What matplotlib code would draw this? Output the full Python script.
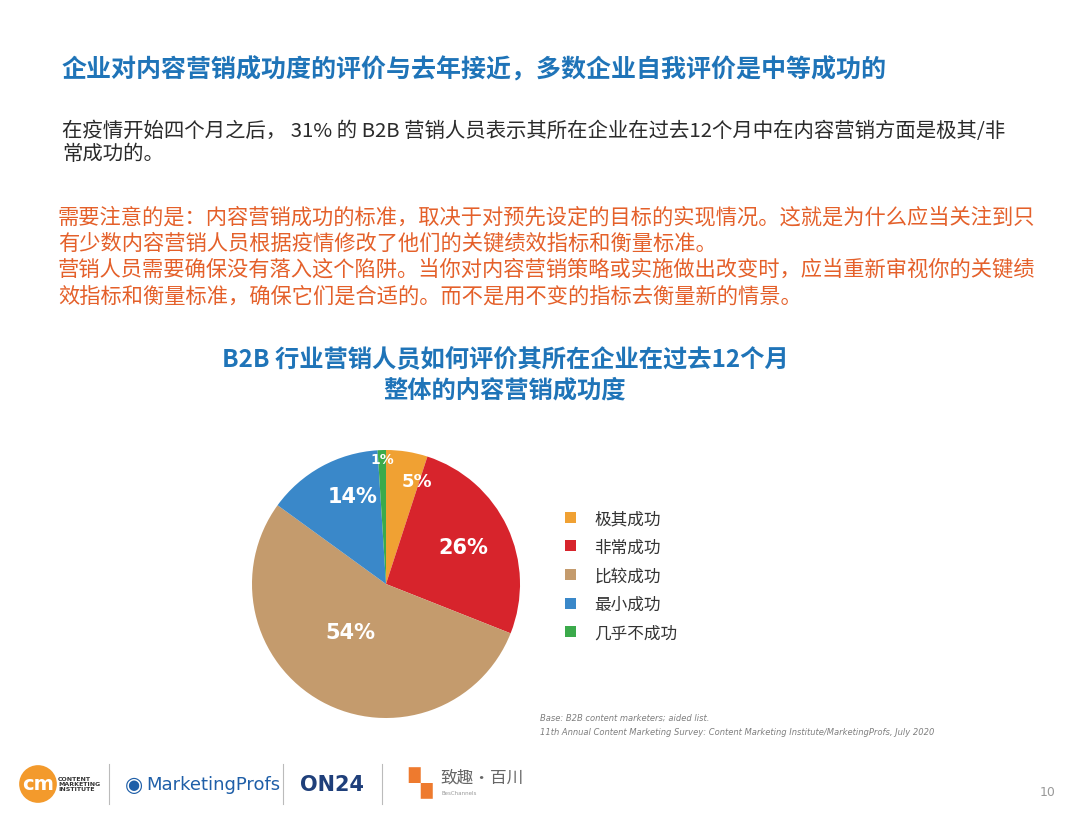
import matplotlib
matplotlib.use("Agg")
import matplotlib.pyplot as plt
from matplotlib.patches import Patch
import numpy as np

plt.rcParams['font.family'] = ['Noto Sans CJK SC', 'DejaVu Sans']

# ---- data ----
categories = ["极其成功", "非常成功", "比较成功", "最小成功", "几乎不成功"]
values = [5, 26, 54, 14, 1]
pct_labels = ["5%", "26%", "54%", "14%", "1%"]
colors = ["#F0A133", "#D7242C", "#C49B6D", "#3A88C9", "#3BAA4B"]

title = "企业对内容营销成功度的评价与去年接近，多数企业自我评价是中等成功的"
intro_lines = ["在疫情开始四个月之后， 31% 的 B2B 营销人员表示其所在企业在过去12个月中在内容营销方面是极其/非",
               "常成功的。"]
note_lines = ["需要注意的是：内容营销成功的标准，取决于对预先设定的目标的实现情况。这就是为什么应当关注到只",
              "有少数内容营销人员根据疫情修改了他们的关键绩效指标和衡量标准。",
              "营销人员需要确保没有落入这个陷阱。当你对内容营销策略或实施做出改变时，应当重新审视你的关键绩",
              "效指标和衡量标准，确保它们是合适的。而不是用不变的指标去衡量新的情景。"]
chart_title = ["B2B 行业营销人员如何评价其所在企业在过去12个月", "整体的内容营销成功度"]
source_lines = ["Base: B2B content marketers; aided list.",
                "11th Annual Content Marketing Survey: Content Marketing Institute/MarketingProfs, July 2020"]
page_number = "10"

W, H = 1080, 820
fig = plt.figure(figsize=(W / 100, H / 100), dpi=100)
fig.patch.set_facecolor("white")

def fx(x):
    return x / W

def fy(y):
    return 1 - y / H

# ---- header text ----
fig.text(fx(62), fy(70), title, fontsize=18.0, fontweight="bold", color="#1F74B8", va="center", ha="left")
for i, line in enumerate(intro_lines):
    fig.text(fx(62), fy(132 + i * 23), line, fontsize=14.7, color="#2B2B2B", va="center", ha="left",
             linespacing=1.0)
for i, line in enumerate(note_lines):
    fig.text(fx(58), fy(217 + i * 26.5), line, fontsize=15.3, color="#E4602A", va="center", ha="left")
for i, line in enumerate(chart_title):
    fig.text(fx(505), fy(360 + i * 31), line, fontsize=17.5, fontweight="bold", color="#1F74B8",
             va="center", ha="center")

# ---- pie ----
cx, cy, r = 386, 585, 134
ax = fig.add_axes([fx(cx - r), (H - cy - r) / H, 2 * r / W, 2 * r / H])
wedges, _ = ax.pie(values, colors=colors, startangle=90, counterclock=False,
                   wedgeprops=dict(linewidth=0))
ax.set_xlim(-1, 1)
ax.set_ylim(-1, 1)
ax.set_aspect("equal")
ax.axis("off")

label_dist = [0.80, 0.64, 0.45, 0.70, 0.93]
label_size = [13, 15, 15, 15, 10]
label_angle_shift = [-8, 0, -8, -8, 0]
for w, lab, d, s, sh in zip(wedges, pct_labels, label_dist, label_size, label_angle_shift):
    ang = np.deg2rad((w.theta1 + w.theta2) / 2 + sh)
    ax.text(d * np.cos(ang), d * np.sin(ang), lab, ha="center", va="center",
            fontsize=s, fontweight="bold", color="white", family="DejaVu Sans")

# ---- legend ----
handles = [Patch(facecolor=c, edgecolor="none") for c in colors]
leg = fig.legend(handles, categories, loc="upper left", bbox_to_anchor=(fx(550), fy(496)),
                 frameon=False, fontsize=12, handlelength=0.65, handleheight=0.65,
                 handletextpad=1.1, labelspacing=0.7, labelcolor="#333333")

# ---- source ----
for i, line in enumerate(source_lines):
    fig.text(fx(540), fy(718 + i * 15), line, fontsize=6.0, style="italic", color="#7F7F7F",
             va="center", ha="left", family="DejaVu Sans")

# ---- footer logos (text) ----
fig.text(fx(38), fy(785), "cm", fontsize=14, fontweight="bold", color="white", va="center", ha="center",
         family="DejaVu Sans",
         bbox=dict(boxstyle="circle,pad=0.15", facecolor="#F39A2C", edgecolor="none"))
fig.text(fx(58), fy(785), "CONTENT\nMARKETING\nINSTITUTE", fontsize=4.5, fontweight="bold", color="#333333",
         va="center", ha="left", family="DejaVu Sans", linespacing=1.0)
fig.text(fx(125), fy(785), "◉", fontsize=15, color="#1F5FA8", va="center", ha="left", family="DejaVu Sans")
fig.text(fx(146), fy(785), "MarketingProfs", fontsize=13, color="#1F5FA8", va="center", ha="left",
         family="DejaVu Sans")
fig.text(fx(300), fy(785), "ON24", fontsize=15, fontweight="bold", color="#1F3F7A", va="center", ha="left",
         family="DejaVu Sans")
fig.text(fx(408), fy(783), "▚", fontsize=22, color="#EE7A2E", va="center", ha="left", family="DejaVu Sans")
fig.text(fx(440), fy(778), "致趣·百川", fontsize=12, color="#666666", va="center", ha="left")
fig.text(fx(441), fy(794), "BesChannels", fontsize=4, color="#999999", va="center", ha="left",
         family="DejaVu Sans")
for x in [109, 283, 382]:
    fig.add_artist(plt.Line2D([fx(x), fx(x)], [fy(765), fy(805)], color="#BBBBBB", lw=0.8))

fig.text(fx(1048), fy(793), page_number, fontsize=9, color="#999999", va="center", ha="center",
         family="DejaVu Sans")

fig.savefig("out.png", dpi=100, facecolor="white")
